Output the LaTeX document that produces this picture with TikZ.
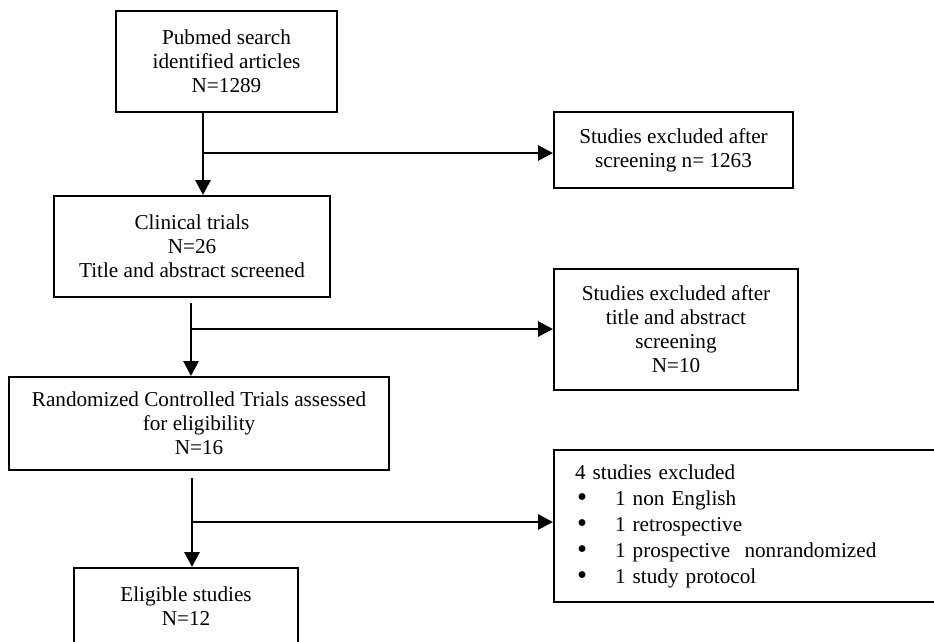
\documentclass[tikz,border=0pt]{standalone}
\usepackage{fontspec}
\setmainfont{Liberation Serif}
\usetikzlibrary{positioning, arrows.meta}

\newcommand{\bigbul}{\makebox[40pt][l]{\hspace{2pt}\smash{\raisebox{-1pt}{\scalebox{1.35}{\textbullet}}}}}

\begin{document}
\begin{tikzpicture}[x=1pt, y=-1pt,
  font=\fontsize{21.2}{24}\selectfont,
  box/.style={draw, line width=2pt, rectangle, align=center, inner sep=0pt},
  arr/.style={line width=2.9pt, -{Triangle[length=15pt,width=15pt]}}]
\useasboundingbox (0,0) rectangle (934,641);
\clip (0,0) rectangle (934,641);

% main column
\node[box, minimum width=221, minimum height=101] (pubmed) at (226.5,61.5)
  {Pubmed search\\identified articles\\N=1289};
\node[box, minimum width=276, minimum height=101] (clinical) at (192,246.5)
  {Clinical trials\\N=26\\Title and abstract screened};
\node[box, minimum width=380, minimum height=93] (rct) at (199,423.5)
  {Randomized Controlled Trials assessed\\for eligibility\\N=16};
\node[box, minimum width=224, minimum height=101] (eligible) at (186,618.5)
  {Eligible studies\\N=12\\\mbox{}};

% excluded boxes
\node[box, minimum width=239, minimum height=76] (excl1) at (673.5,150)
  {Studies excluded after\\screening n= 1263};
\node[box, minimum width=244, minimum height=121] (excl2) at (676,329.5)
  {Studies excluded after\\title and abstract\\screening\\N=10};
\node[box, minimum width=390, minimum height=152, align=left, inner xsep=21pt,
  text width=348, font=\fontsize{21.2}{26}\selectfont] (excl3) at (749,526)
  {4 studies excluded\\
   \bigbul 1 non English\\
   \bigbul 1 retrospective\\
   \bigbul 1 prospective\ \ nonrandomized\\
   \bigbul 1 study protocol};

\coordinate (j1) at (203,153);
\coordinate (j2) at (191,329);
\coordinate (j3) at (192,522);

\draw[arr] (j1 |- pubmed.south) -- (j1 |- clinical.north);
\draw[arr] (j1) -- (excl1.west |- j1);
\draw[arr, shorten <=5pt] (j2 |- clinical.south) -- (j2 |- rct.north);
\draw[arr] (j2) -- (excl2.west |- j2);
\draw[arr, shorten <=7pt] (j3 |- rct.south) -- (j3 |- eligible.north);
\draw[arr] (j3) -- (excl3.west |- j3);
\end{tikzpicture}
\end{document}
